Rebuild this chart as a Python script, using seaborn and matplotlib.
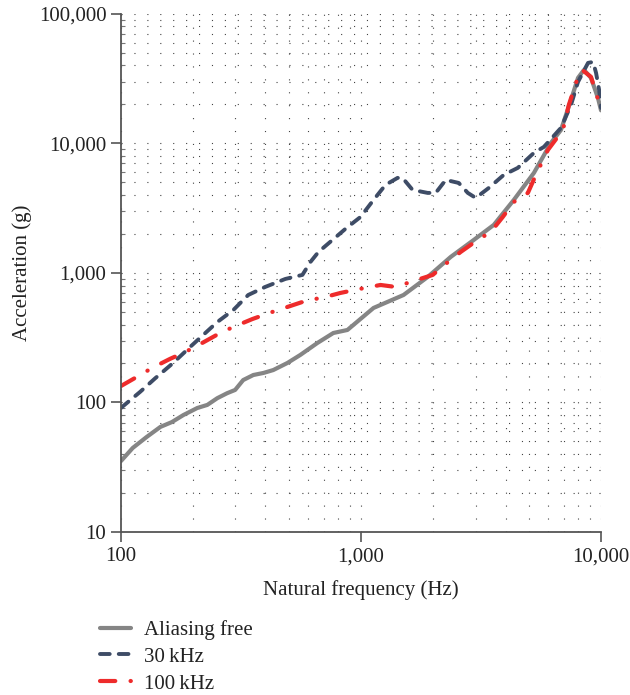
import numpy as np
import pandas as pd
import matplotlib
matplotlib.use("Agg")
import matplotlib.pyplot as plt
import seaborn as sns
from matplotlib.ticker import FuncFormatter, LogLocator, NullFormatter

# ---------------- data ----------------
free_f = [100, 112, 128, 146, 163, 182, 208, 229, 252, 277, 299, 323, 356, 392, 431, 494, 559,
          658, 767, 878, 1128, 1504, 1896, 2365, 2951, 3575, 4333, 5253, 6183, 6808, 7497,
          8018, 8494, 9083, 9710, 10000]
free_a = [35.3, 44.6, 54.2, 64.8, 70.6, 80, 90.7, 95.8, 108, 118, 125, 149, 163, 169, 178, 202, 233,
          288, 344, 363, 537, 676, 931, 1330, 1799, 2350, 3664, 5921, 10090, 12700, 21670,
          32060, 36980, 32060, 22440, 18000]

k30_f = [100, 120, 139, 165, 194, 220, 252, 294, 339, 399, 484, 570, 616, 665, 761, 870, 995,
         1128, 1265, 1420, 1490, 1640, 1896, 2048, 2254, 2554, 2786, 3007, 3407, 3934, 4499,
         5253, 5779, 6808, 7497, 8018, 8830, 9268, 9536, 9820, 10000]
k30_a = [90.8, 120.5, 154, 202, 268, 332, 418, 518, 676, 780, 899, 966, 1217, 1453, 1799, 2225, 2704,
         3664, 4784, 5419, 5419, 4377, 4150, 4150, 5227, 4955, 4150, 3796, 4533, 5717, 6472,
         8453, 9397, 13180, 19820, 29850, 41860, 42600, 35000, 25900, 18800]

k100_f = [100, 114, 135, 160, 185, 218, 259, 294, 353, 427, 493, 587, 711, 821, 985, 1206, 1393,
          1656, 1990, 2254, 2602, 3064, 3473, 3896, 4333, 4958, 5353, 6010, 6937, 7344, 8018,
          8337, 9083, 9536, 10000]
k100_a = [134, 154, 185, 217, 245, 288, 344, 383, 441, 500, 546, 608, 653, 701, 752, 808, 780,
          867, 966, 1175, 1453, 1799, 2073, 2704, 3532, 4150, 5717, 8913, 12700, 19820, 32660,
          36980, 32660, 24530, 18160]

labels = ["Aliasing free", "30\u2009kHz", "100\u2009kHz"]
x_ticks = [100, 1000, 10000]
y_ticks = [10, 100, 1000, 10000, 100000]

# ---------------- style ----------------
sns.set_theme(style="white")
plt.rcParams["font.family"] = ["Liberation Serif", "DejaVu Serif"]
plt.rcParams["lines.scale_dashes"] = False

fig = plt.figure(figsize=(6.3, 6.95), dpi=100)
ax = fig.add_axes([0.192, 0.2345, 0.762, 0.7455])

c_gray = "#858585"
c_navy = "#3e4c66"
c_red = "#ee2b2b"

sns.lineplot(x=free_f, y=free_a, ax=ax, color=c_gray, linewidth=3.0, label=labels[0],
             solid_capstyle="round", solid_joinstyle="round", estimator=None, sort=False)
sns.lineplot(x=k30_f, y=k30_a, ax=ax, color=c_navy, linewidth=2.8, label=labels[1],
             estimator=None, sort=False)
sns.lineplot(x=k100_f, y=k100_a, ax=ax, color=c_red, linewidth=3.0, label=labels[2],
             estimator=None, sort=False)

lines = ax.get_lines()
lines[1].set_dashes((7, 6.5))
lines[1].set_dash_capstyle("round")
lines[1].set_dash_joinstyle("round")
lines[2].set_dashes((11, 11, 0.2, 11))
lines[2].set_dash_capstyle("round")
lines[2].set_dash_joinstyle("round")

ax.set_xscale("log")
ax.set_yscale("log")
ax.set_xlim(100, 10000)
ax.set_ylim(10, 100000)

fmt = FuncFormatter(lambda v, p: f"{int(round(v)):,}")
ax.set_xticks(x_ticks)
ax.set_yticks(y_ticks)
ax.xaxis.set_major_formatter(fmt)
ax.yaxis.set_major_formatter(fmt)
ax.xaxis.set_minor_locator(LogLocator(base=10, subs=np.arange(2, 10)))
ax.yaxis.set_minor_locator(LogLocator(base=10, subs=np.arange(2, 10)))
ax.xaxis.set_minor_formatter(NullFormatter())
ax.yaxis.set_minor_formatter(NullFormatter())

ax.grid(True, which="both", color="#444444", linestyle=(0, (0.8, 8.5)), linewidth=0.8)

for s in ["top", "right"]:
    ax.spines[s].set_visible(False)
for s in ["left", "bottom"]:
    ax.spines[s].set_color("#555555")
    ax.spines[s].set_linewidth(1.3)

ax.tick_params(axis="both", which="major", direction="out", length=7, width=1.2,
               color="#555555", labelsize=15, labelcolor="#222222", bottom=True, left=True)
ax.tick_params(axis="y", which="minor", direction="in", length=3, width=0.8, color="#777777", left=True)
ax.tick_params(axis="x", which="minor", length=0)
ax.tick_params(axis="x", which="major", pad=4)

ax.set_xlabel("Natural frequency (Hz)", fontsize=15, color="#222222", labelpad=10)
ax.set_ylabel("Acceleration (g)", fontsize=15, color="#222222", labelpad=5)

ax.get_legend().remove()
handles = ax.get_lines()[:3]
fig.legend(handles, labels, loc="upper left", bbox_to_anchor=(0.158, 0.108),
           frameon=False, fontsize=15, handlelength=1.5, handletextpad=0.65,
           labelspacing=0.35, borderaxespad=0, borderpad=0, labelcolor="#222222")

fig.savefig("out.png", dpi=100)
